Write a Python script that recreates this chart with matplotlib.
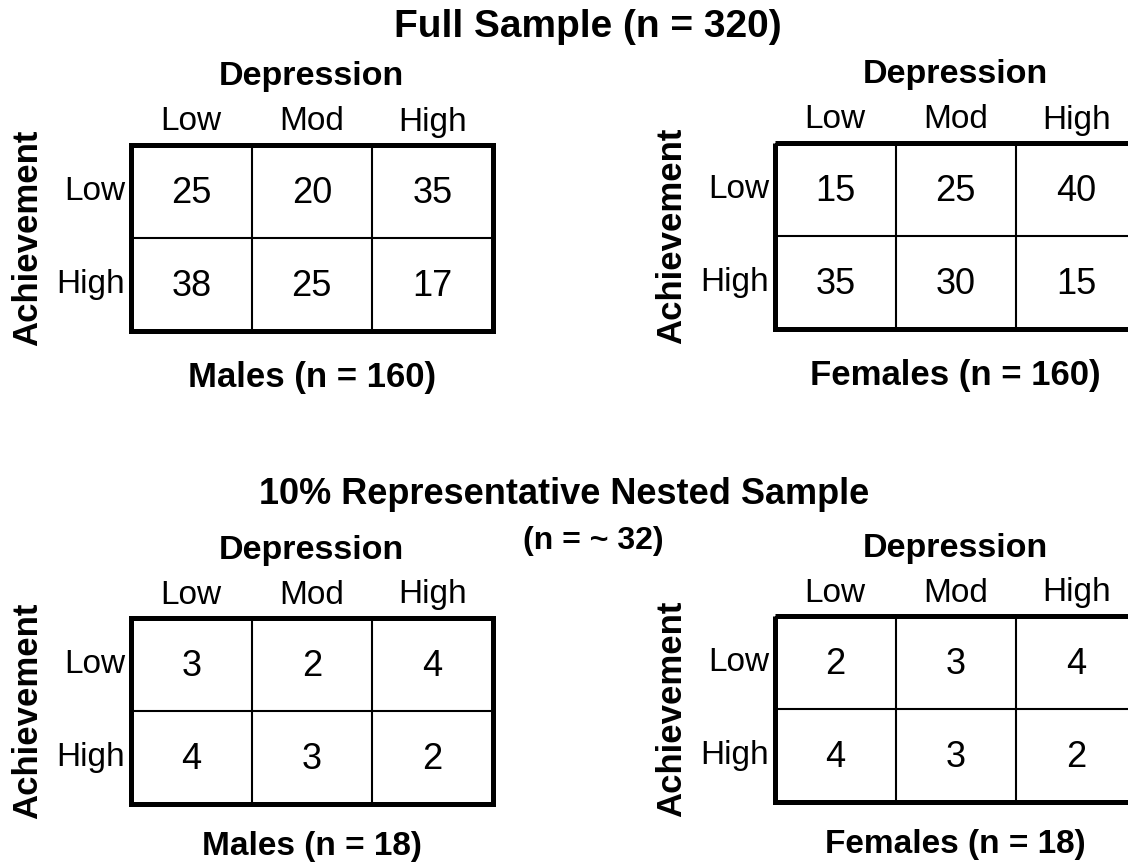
import matplotlib
matplotlib.use('Agg')
import matplotlib.pyplot as plt
from matplotlib.patches import Rectangle

plt.rcParams['font.family'] = ['Liberation Sans', 'DejaVu Sans']

row_labels = ['Low', 'High']
col_labels = ['Low', 'Mod', 'High']

full_males = [[25, 20, 35], [38, 25, 17]]
full_females = [[15, 25, 40], [35, 30, 15]]
nested_males = [[3, 2, 4], [4, 3, 2]]
nested_females = [[2, 3, 4], [4, 3, 2]]

fig = plt.figure(figsize=(11.28, 8.65), dpi=100)
ax = fig.add_axes([0, 0, 1, 1])
ax.set_xlim(0, 1128)
ax.set_ylim(865, 0)
ax.axis('off')

cw, ch = 120.5, 93


def table(x0, y0, vals, caption, cap_dy=46, cap_size=25):
    # x0, y0 = top-left corner of the box (pixels)
    for i in range(1, 3):
        ax.plot([x0 + i * cw, x0 + i * cw], [y0, y0 + 2 * ch], color='black', lw=1.5)
    ax.plot([x0, x0 + 3 * cw], [y0 + ch, y0 + ch], color='black', lw=1.5)
    ax.add_patch(Rectangle((x0, y0), 3 * cw, 2 * ch, fill=False, edgecolor='black', lw=3.6))
    for r in range(2):
        for c in range(3):
            ax.text(x0 + (c + 0.5) * cw, y0 + (r + 0.5) * ch + 2, str(vals[r][c]),
                    ha='center', va='center', fontsize=26)
    for c in range(3):
        ax.text(x0 + (c + 0.5) * cw, y0 - 23, col_labels[c], ha='center', va='center', fontsize=24)
    for r in range(2):
        ax.text(x0 - 6, y0 + (r + 0.5) * ch, row_labels[r], ha='right', va='center', fontsize=24)
    ax.text(x0 + 1.5 * cw, y0 - 68, 'Depression', ha='center', va='center', fontsize=24.5,
            fontweight='bold')
    ax.text(x0 - 103, y0 + ch, 'Achievement', ha='center', va='center', fontsize=25,
            fontweight='bold', rotation=90)
    ax.text(x0 + 1.5 * cw, y0 + 2 * ch + cap_dy, caption, ha='center', va='center',
            fontsize=cap_size, fontweight='bold')


ax.text(588, 27, 'Full Sample (n = 320)', ha='center', va='center', fontsize=28, fontweight='bold')
table(131, 145, full_males, 'Males (n = 160)')
table(775, 143, full_females, 'Females (n = 160)')

ax.text(564, 495, '10% Representative Nested Sample', ha='center', va='center', fontsize=26,
        fontweight='bold')
ax.text(593, 541, '(n = ~ 32)', ha='center', va='center', fontsize=23, fontweight='bold')
table(131, 618, nested_males, 'Males (n = 18)', cap_dy=42, cap_size=24)
table(775, 616, nested_females, 'Females (n = 18)', cap_dy=42, cap_size=24)

fig.savefig('out.png', dpi=100)
